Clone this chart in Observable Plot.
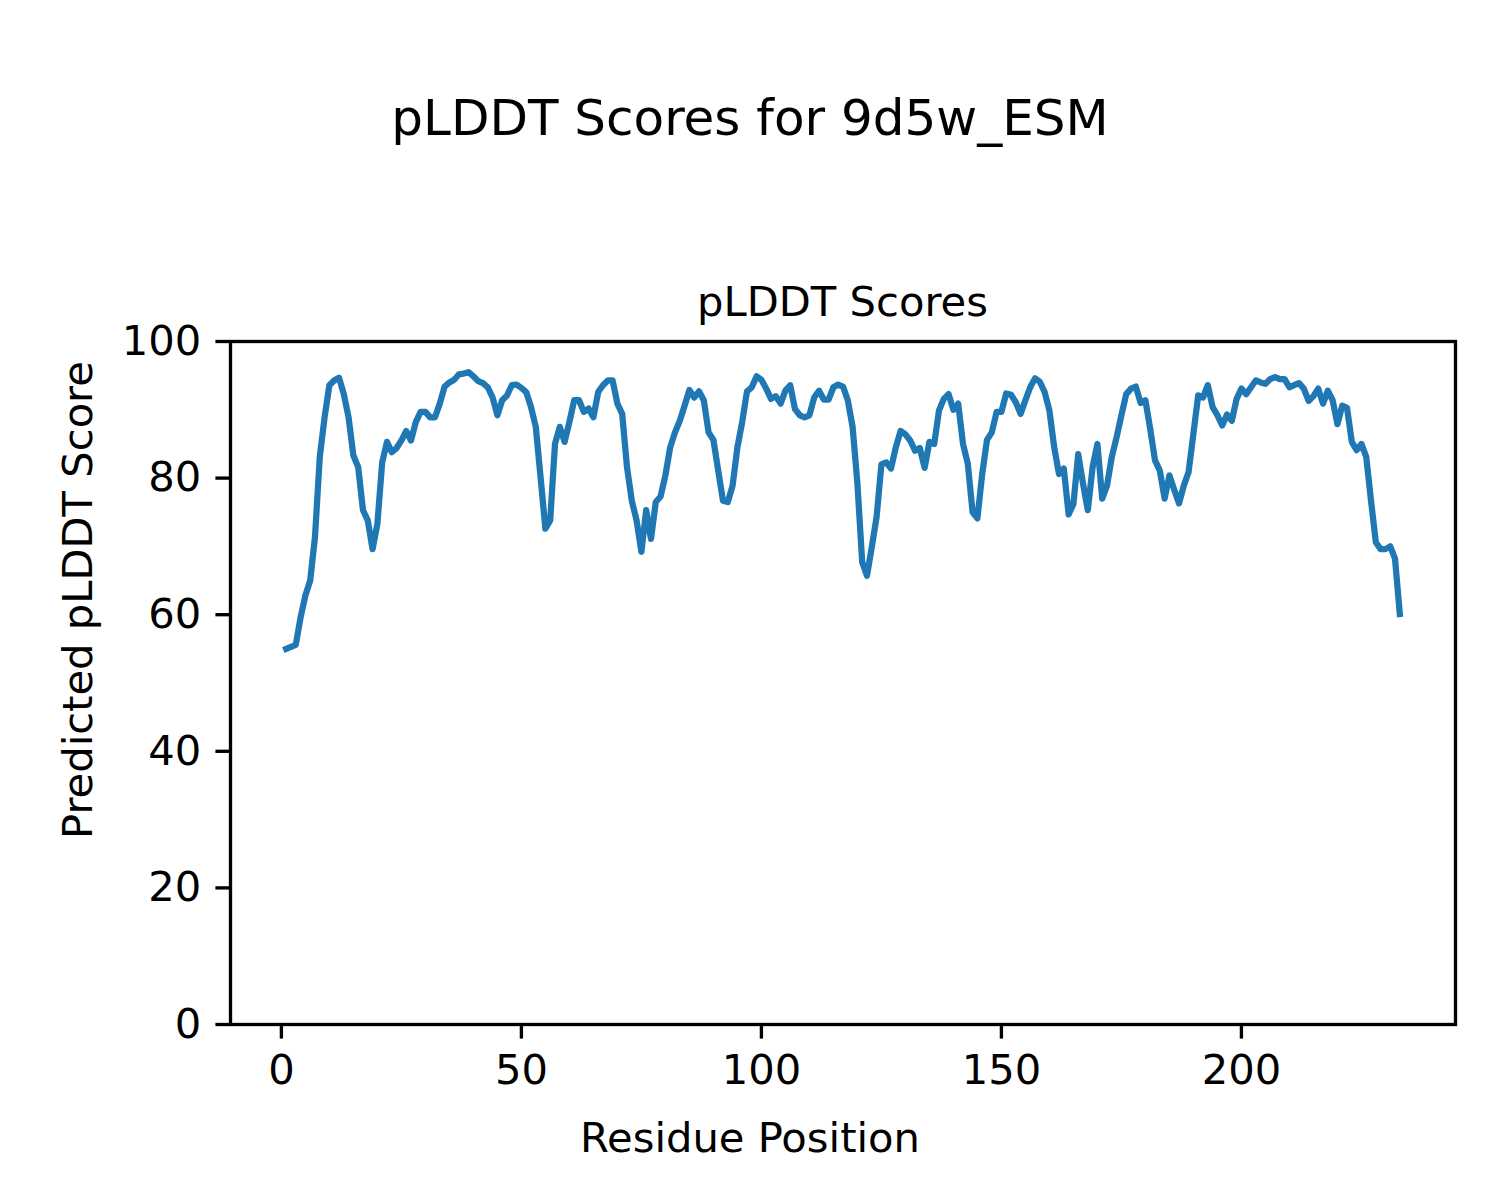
<!DOCTYPE html>
<html><head><meta charset="utf-8">
<script src="https://cdn.jsdelivr.net/npm/d3@7"></script>
<script src="https://cdn.jsdelivr.net/npm/@observablehq/plot@0.6"></script>
<style>
html,body{margin:0;padding:0;background:#fff;}
#fig{position:relative;width:1500px;height:1200px;font-family:"DejaVu Sans",sans-serif;color:#000;overflow:hidden;}
#fig svg{position:absolute;left:0;top:0;}
.t{position:absolute;line-height:1;white-space:nowrap;}
</style></head><body>
<div id="fig">
 <div class="t" style="left:0;width:1500px;text-align:center;font-size:50px;top:92.7px">pLDDT Scores for 9d5w_ESM</div>
 <div class="t" style="left:230px;width:1225px;text-align:center;font-size:41.67px;top:280.75px">pLDDT Scores</div>
 <div class="t" style="left:0;width:1500px;text-align:center;font-size:41.67px;top:1116.75px">Residue Position</div>
 <div class="t" style="left:56.75px;top:1000px;width:800px;text-align:center;font-size:41.67px;transform-origin:0 0;transform:rotate(-90deg)">Predicted pLDDT Score</div>
</div>
<script>
// Residue positions start at 1
const firstResidue = 1;
// pLDDT score per residue
const plddt = [
  55.0, 55.3, 55.6, 59.6, 62.8, 65.0, 71.4, 83.1, 88.9, 93.6,
  94.3, 94.7, 92.3, 88.9, 83.3, 81.6, 75.3, 73.8, 69.6, 73.3,
  82.3, 85.3, 83.8, 84.4, 85.5, 86.9, 85.5, 88.2, 89.7, 89.7,
  88.9, 88.9, 90.9, 93.4, 94.0, 94.4, 95.2, 95.3, 95.5,
  94.9, 94.2, 93.9, 93.3, 91.8, 89.2, 91.4, 92.1, 93.6, 93.7,
  93.2, 92.6, 90.4, 87.5, 80.1, 72.6, 73.8, 85.0, 87.5, 85.3,
  88.2, 91.4, 91.4, 89.7, 90.2, 88.9, 92.6, 93.6, 94.3, 94.3,
  90.9, 89.4, 81.6, 76.7, 73.8, 69.2, 75.3, 71.1, 76.5, 77.3,
  80.4, 84.5, 86.7, 88.4, 90.6, 92.9, 91.8, 92.7, 91.4, 86.7,
  85.6, 81.1, 76.7, 76.5, 78.9, 84.5, 88.2, 92.7, 93.3, 94.9,
  94.4, 93.1, 91.6, 92.0, 90.9, 92.8, 93.6, 90.1, 89.2, 88.9,
  89.2, 91.8, 92.8, 91.5, 91.5, 93.3, 93.7, 93.4, 91.4,
  87.5, 79.2, 67.7, 65.7, 69.9, 74.3, 82.0, 82.3, 81.4, 84.5,
  86.9, 86.4, 85.5, 84.0, 84.4, 81.5, 85.3, 85.0, 89.9, 91.6,
  92.3, 90.0, 90.9, 85.0, 82.1, 75.0, 74.1, 80.6, 85.6, 86.7,
  89.7, 89.7, 92.4, 92.2, 91.1, 89.4, 91.4, 93.3, 94.6, 94.1,
  92.6, 89.9, 84.5, 80.6, 81.4, 74.7, 76.2, 83.5, 79.2, 75.3,
  81.6, 85.0, 77.0, 78.9, 83.1, 86.0, 89.2, 92.3, 93.1, 93.4,
  91.0, 91.4, 87.2, 82.6, 81.1, 77.0, 80.4, 78.3, 76.3, 78.9,
  80.9, 86.5, 92.1, 91.8, 93.6, 90.4, 89.2, 87.7, 89.3,
  88.4, 91.6, 93.1, 92.3, 93.3, 94.3, 94.0, 93.8, 94.5, 94.8,
  94.5, 94.5, 93.3, 93.6, 93.9, 93.1, 91.3, 92.0, 93.1, 90.9,
  92.8, 91.4, 87.9, 90.6, 90.3, 85.3, 84.1, 85.0, 83.1, 76.7,
  70.6, 69.6, 69.6, 70.0, 68.2, 60.1
];
const xTicks = [0, 50, 100, 150, 200];
const yTicks = [0, 20, 40, 60, 80, 100];

const rows = plddt.map((v, i) => ({residue: firstResidue + i, plddt: v}));
const xmin = firstResidue, xmax = firstResidue + plddt.length - 1;
const pad = (xmax - xmin) * 0.05;

const chart = Plot.plot({
  width: 1500, height: 1200,
  marginLeft: 230, marginRight: 45, marginTop: 341, marginBottom: 176,
  style: {fontFamily: "DejaVu Sans", fontSize: "41.67px", color: "#000", background: "transparent"},
  x: {domain: [xmin - pad, xmax + pad]},
  y: {domain: [0, 100]},
  marks: [
    Plot.line(rows, {x: "residue", y: "plddt", stroke: "#1f77b4", strokeWidth: 6.25, strokeLinejoin: "round", strokeLinecap: "square"}),
    Plot.frame({stroke: "#000", strokeWidth: 3.33}),
    Plot.axisX({ticks: xTicks, tickSize: 14.6, tickPadding: 15, strokeWidth: 3.33, label: null, tickFormat: d => String(d)}),
    Plot.axisY({ticks: yTicks, tickSize: 14.6, tickPadding: 14.6, strokeWidth: 3.33, label: null, tickFormat: d => String(d)})
  ]
});
document.getElementById("fig").prepend(chart);
</script>
</body></html>
